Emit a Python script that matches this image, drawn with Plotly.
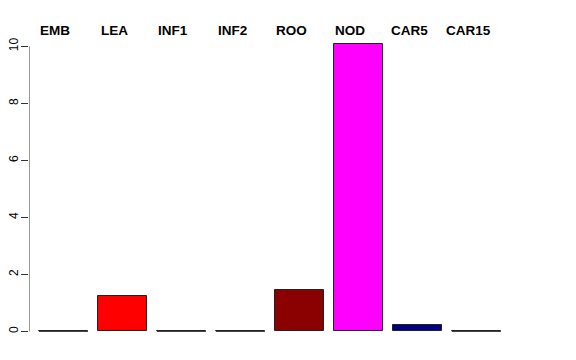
import plotly.graph_objects as go

categories = ["EMB", "LEA", "INF1", "INF2", "ROO", "NOD", "CAR5", "CAR15"]
values = [0.0, 1.23, 0.0, 0.0, 1.47, 10.1, 0.24, 0.0]
colors = ["#808080", "#FF0000", "#808080", "#808080", "#8B0000", "#FF00FF", "#000080", "#808080"]
y_ticks = [0, 2, 4, 6, 8, 10]

bar_w = 1.0
space = 0.2
label_shift = 0.165  # top labels sit slightly left of the bar centres
centers = [space + bar_w / 2 + i * (bar_w + space) for i in range(len(categories))]

fig = go.Figure()
fig.add_trace(go.Bar(
    x=centers, y=values, width=bar_w,
    marker=dict(color=colors, line=dict(color="#222222", width=1)),
    hoverinfo="skip", showlegend=False,
))

# zero-height bars are drawn by R as a flat outline at the baseline
for c, v in zip(centers, values):
    if v == 0:
        fig.add_trace(go.Scatter(
            x=[c - bar_w / 2, c + bar_w / 2], y=[v, v], mode="lines",
            line=dict(color="#444444", width=1.2), hoverinfo="skip", showlegend=False,
        ))

for c, name in zip(centers, categories):
    fig.add_annotation(
        x=c - label_shift, xref="x", y=1.005, yref="paper", text="<b>%s</b>" % name,
        showarrow=False, yanchor="middle", xanchor="center",
        font=dict(family="Liberation Sans, Arial, sans-serif", size=13.5, color="black"),
    )

fig.add_shape(type="line", xref="x", yref="y", x0=0, x1=0, y0=min(y_ticks), y1=max(y_ticks),
              line=dict(color="#333333", width=1))

fig.update_layout(
    width=576, height=360,
    margin=dict(l=21, r=56, t=24, b=25, autoexpand=False),
    paper_bgcolor="white", plot_bgcolor="white",
    font=dict(family="Liberation Sans, Arial, sans-serif", size=12, color="black"),
    bargap=0,
    xaxis=dict(range=[0, 10.15], visible=False, fixedrange=True, automargin=False),
    yaxis=dict(range=[-0.404, 10.504], tickvals=y_ticks, ticks="outside", ticklen=7,
               tickcolor="#333333", tickangle=-90, showgrid=False, zeroline=False,
               showline=False, tickfont=dict(size=12), fixedrange=True, automargin=False,
               ticklabelstandoff=-2),
)

fig.write_html("out.html")
